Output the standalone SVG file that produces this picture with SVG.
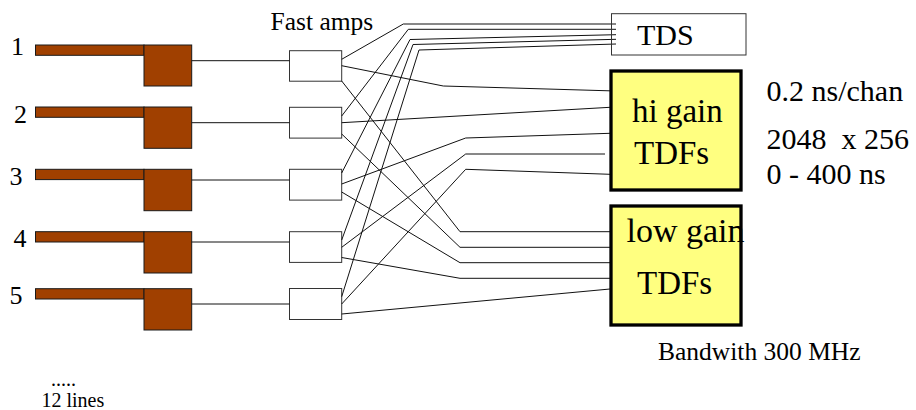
<svg xmlns="http://www.w3.org/2000/svg" width="916" height="410" viewBox="0 0 916 410">
<style>
text{font-family:"Liberation Serif","Times New Roman",serif;fill:#000}
.lbl{font-size:26px}
.bar{fill:#A04000;stroke:#1a1a1a;stroke-width:1}
.amp{fill:#fff;stroke:#333;stroke-width:1}
.tdf{fill:#FFFF80;stroke:#000;stroke-width:3.3}
.big{font-size:33px}
.note{font-size:30px}
#connectors polyline,#connectors line{fill:none;stroke:#111;stroke-width:1}
</style>
<rect width="916" height="410" fill="#fff"/>
<g id="sensor1"><text class="lbl" x="11" y="55">1</text><rect class="bar" x="35.5" y="45" width="108.5" height="10.3"/><rect class="bar" x="144" y="45" width="47.7" height="41"/></g>
<g id="sensor2"><text class="lbl" x="14" y="123">2</text><rect class="bar" x="35.5" y="107" width="108.5" height="10.3"/><rect class="bar" x="144" y="107" width="47.7" height="41.3"/></g>
<g id="sensor3"><text class="lbl" x="9.5" y="185">3</text><rect class="bar" x="35.5" y="169.3" width="108.5" height="10.3"/><rect class="bar" x="144" y="169.3" width="47.7" height="41.4"/></g>
<g id="sensor4"><text class="lbl" x="13.5" y="246.5">4</text><rect class="bar" x="35.5" y="231.7" width="108.5" height="10.3"/><rect class="bar" x="144" y="231.7" width="47.7" height="41.3"/></g>
<g id="sensor5"><text class="lbl" x="9.5" y="304">5</text><rect class="bar" x="35.5" y="288.7" width="108.5" height="10.3"/><rect class="bar" x="144" y="288.7" width="47.7" height="41.3"/></g>
<g id="more"><text x="51" y="386" style="font-size:20px">.....</text><text x="41.5" y="406.5" style="font-size:20px">12 lines</text></g>
<g id="amps-title"><text x="270.5" y="30" style="font-size:25.5px">Fast amps</text></g>
<g id="amp1"><rect class="amp" x="289.5" y="50.7" width="52.2" height="30.5"/></g>
<g id="amp2"><rect class="amp" x="289.5" y="107.3" width="52.2" height="30.8"/></g>
<g id="amp3"><rect class="amp" x="289.5" y="169.3" width="52.2" height="30.8"/></g>
<g id="amp4"><rect class="amp" x="289.5" y="231.7" width="52.2" height="30.7"/></g>
<g id="amp5"><rect class="amp" x="289.5" y="288.5" width="52.2" height="31"/></g>
<g id="connectors">
<line x1="191.7" y1="60.7" x2="289.5" y2="60.7"/>
<line x1="191.7" y1="122.7" x2="289.5" y2="122.7"/>
<line x1="191.7" y1="180" x2="289.5" y2="180"/>
<line x1="191.7" y1="242" x2="289.5" y2="242"/>
<line x1="191.7" y1="304" x2="289.5" y2="304"/>
<polyline points="341.7,59.3 403.3,24 616,24"/>
<polyline points="341.7,65.7 443.3,86 616,91"/>
<polyline points="341.7,81 460,231.7 611,231.7"/>
<polyline points="341.7,116 408.3,29.3 616,29.3"/>
<polyline points="341.7,122.7 610,107.3"/>
<polyline points="341.7,134 460,247.3 611,247.3"/>
<polyline points="341.7,173 410,39.5 616,34.7"/>
<polyline points="341.7,184 465.7,138 610,133.3"/>
<polyline points="341.7,192 460,262.7 611,262.7"/>
<polyline points="341.7,240 413,44.5 616,39.3"/>
<polyline points="341.7,247.3 465.7,154 605,154"/>
<polyline points="341.7,257.5 460,278.3 611,278.3"/>
<polyline points="341.7,296.7 419,50 616,44"/>
<polyline points="341.7,304 465.7,169.3 610,174.3"/>
<polyline points="341.7,314 610,289"/>
</g>
<g id="tds"><rect x="611.5" y="13.7" width="134.5" height="41.3" fill="none" stroke="#333" stroke-width="1"/><text class="note" x="637" y="45">TDS</text></g>
<g id="hi-gain"><rect class="tdf" x="611" y="71" width="130" height="119"/><text class="big" x="632" y="121.7">hi gain</text><text class="big" x="634" y="164">TDFs</text></g>
<g id="low-gain"><rect class="tdf" x="611" y="206" width="130" height="119"/><text x="626.5" y="241.7" style="font-size:34px">low gain</text><text class="big" x="637" y="294">TDFs</text></g>
<g id="specs"><text class="note" x="766.5" y="101">0.2 ns/chan</text><text class="note" x="766.5" y="148.7" xml:space="preserve">2048  x 256</text><text class="note" x="766.5" y="184.3">0 - 400 ns</text></g>
<g id="bandwidth"><text x="658" y="360" style="font-size:25.5px">Bandwith 300 MHz</text></g>
</svg>
